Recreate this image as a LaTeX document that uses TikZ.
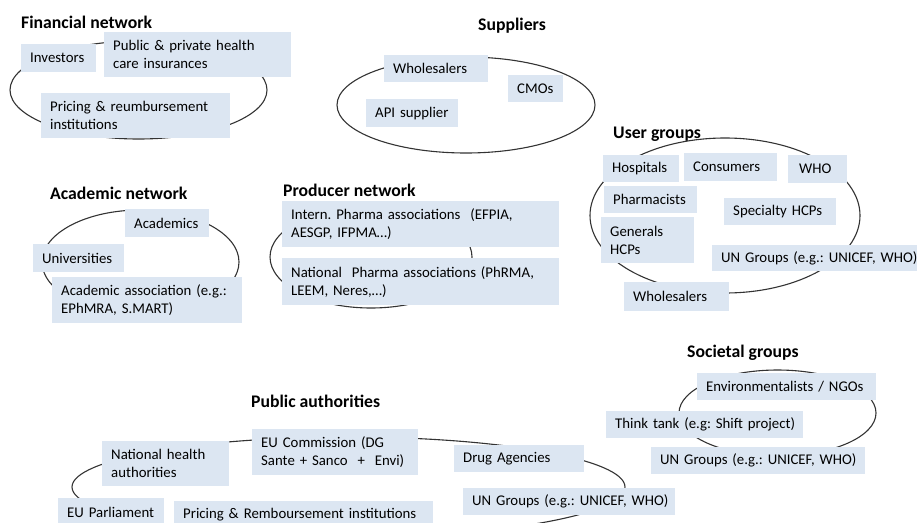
\documentclass[tikz,border=0pt]{standalone}
\usepackage{fontspec}
\setmainfont{Carlito}
\definecolor{boxblue}{HTML}{DCE6F2}
\definecolor{ringgray}{HTML}{333333}
\newcommand{\bodyfnt}{\fontsize{14.8}{18}\selectfont\frenchspacing}
\newcommand{\titlefnt}{\fontsize{17.7}{20}\selectfont\bfseries}
\begin{document}
\begin{tikzpicture}[x=1pt,y=-1pt,
  box/.style={fill=boxblue, inner xsep=9pt, inner ysep=0pt, anchor=north west, align=left, font=\bodyfnt},
  grouptitle/.style={inner sep=0pt, anchor=base west, font=\titlefnt},
  ring/.style={draw=ringgray, line width=1.1pt}]
\useasboundingbox (0,0) rectangle (917,522);
\clip (0,0) rectangle (917,522);

% ---------- rings ----------
\draw[ring] (138.5,90) ellipse [x radius=128.5, y radius=49];
\draw[ring] (466,105) ellipse [x radius=129, y radius=48];
\draw[ring] (725,215.5) ellipse [x radius=135, y radius=77.5];
\draw[ring] (140.5,262) ellipse [x radius=98.5, y radius=52];
\draw[ring] (371,257) ellipse [x radius=101, y radius=51];
\draw[ring] (348.5,487) ellipse [x radius=276.5, y radius=50];
\draw[ring] (777.5,413) ellipse [x radius=98.5, y radius=43];

% ---------- Financial network ----------
\node[grouptitle] (tfin) at (21,28) {Financial network};
\node[box, minimum width=75pt, minimum height=28pt, text width=57pt] (inv) at (21,44) {\mbox{Investors}};
\node[box, minimum width=187pt, minimum height=45pt, text width=169pt] (pub) at (104,32) {\mbox{Public \& private health}\\\mbox{care insurances}};
\node[box, minimum width=189pt, minimum height=45pt, text width=171pt] (pri) at (41,93) {\mbox{Pricing \& reumbursement}\\\mbox{institutions}};

% ---------- Suppliers ----------
\node[grouptitle] (tsup) at (478,30) {Suppliers};
\node[box, minimum width=104pt, minimum height=27pt, text width=86pt] (whs) at (384,55) {\mbox{Wholesalers}};
\node[box, minimum width=55pt, minimum height=27pt, text width=37pt] (cmo) at (508,75) {\mbox{CMOs}};
\node[box, minimum width=92pt, minimum height=28pt, text width=74pt] (api) at (366,99) {\mbox{API supplier}};

% ---------- User groups ----------
\node[grouptitle] (tuse) at (613,138) {User groups};
\node[box, minimum width=76pt, minimum height=27pt, text width=58pt] (hos) at (603,155) {\mbox{Hospitals}};
\node[box, minimum width=93pt, minimum height=28pt, text width=75pt] (con) at (684,153) {\mbox{Consumers}};
\node[box, minimum width=59pt, minimum height=28pt, inner xsep=11pt, text width=37pt] (who) at (788,155) {\mbox{WHO}};
\node[box, minimum width=93pt, minimum height=27pt, text width=75pt] (pha) at (604,186) {\mbox{Pharmacists}};
\node[box, minimum width=112pt, minimum height=27pt, text width=94pt] (spe) at (724,198) {\mbox{Specialty HCPs}};
\node[box, minimum width=93pt, minimum height=46pt, text width=75pt] (gen) at (601,217) {\mbox{Generals}\\\mbox{HCPs}};
\node[box, minimum width=205pt, minimum height=26pt, text width=187pt] (ung) at (712,245) {\mbox{UN Groups (e.g.: UNICEF, WHO)}};
\node[box, minimum width=105pt, minimum height=29pt, text width=87pt] (uwh) at (624,282) {\mbox{Wholesalers}};

% ---------- Academic network ----------
\node[grouptitle] (taca) at (50,199) {Academic network};
\node[box, minimum width=84pt, minimum height=28pt, text width=66pt] (aca) at (125,209) {\mbox{Academics}};
\node[box, minimum width=91pt, minimum height=28pt, text width=73pt] (uni) at (33,244) {\mbox{Universities}};
\node[box, minimum width=190pt, minimum height=46pt, text width=172pt] (aas) at (52,277) {\mbox{Academic association (e.g.:}\\\mbox{EPhMRA, S.MART)}};

% ---------- Producer network ----------
\node[grouptitle] (tpro) at (283,196) {Producer network};
\node[box, minimum width=277pt, minimum height=46pt, text width=259pt] (int) at (282,201) {\mbox{Intern. Pharma associations~ (EFPIA,}\\\mbox{AESGP, IFPMA…)}};
\node[box, minimum width=277pt, minimum height=47pt, text width=259pt] (nat) at (282,258) {\mbox{National~ Pharma associations (PhRMA,}\\\mbox{LEEM, Neres,…)}};

% ---------- Public authorities ----------
\node[grouptitle] (tpub) at (251,407) {Public authorities};
\node[box, minimum width=127pt, minimum height=45pt, text width=109pt] (nha) at (102,441) {\mbox{National health}\\\mbox{authorities}};
\node[box, minimum width=166pt, minimum height=46pt, text width=148pt] (euc) at (252,429) {\mbox{EU Commission (DG}\\\mbox{Sante + Sanco~ + ~Envi)}};
\node[box, minimum width=130pt, minimum height=27pt, text width=112pt] (dru) at (454,445) {\mbox{Drug Agencies}};
\node[box, minimum width=106pt, minimum height=28pt, text width=88pt] (eup) at (58,498) {\mbox{EU Parliament}};
\node[box, minimum width=259pt, minimum height=26pt, text width=241pt] (prr) at (174,501) {\mbox{Pricing \& Remboursement institutions}};
\node[box, minimum width=212pt, minimum height=27pt, text width=194pt] (pun) at (463,488) {\mbox{UN Groups (e.g.: UNICEF, WHO)}};

% ---------- Societal groups ----------
\node[grouptitle] (tsoc) at (687,357) {Societal groups};
\node[box, minimum width=179pt, minimum height=27pt, text width=161pt] (env) at (697,373) {\mbox{Environmentalists / NGOs}};
\node[box, minimum width=197pt, minimum height=27pt, text width=179pt] (thi) at (606,411) {\mbox{Think tank (e.g: Shift project)}};
\node[box, minimum width=214pt, minimum height=27pt, text width=196pt] (sun) at (651,447) {\mbox{UN Groups (e.g.: UNICEF, WHO)}};
\end{tikzpicture}
\end{document}
